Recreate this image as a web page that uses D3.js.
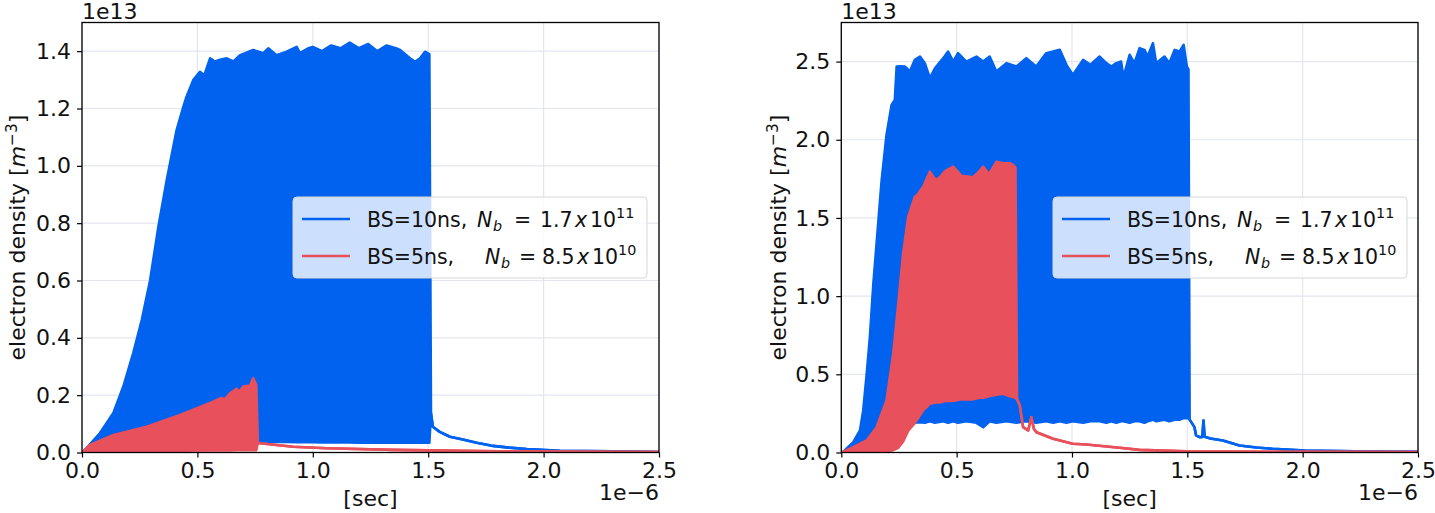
<!DOCTYPE html>
<html><head><meta charset="utf-8">
<script src="https://cdn.jsdelivr.net/npm/d3@7"></script>
<style>
body{margin:0;background:#fff}
svg{display:block}
text{font-family:"DejaVu Sans",sans-serif;fill:#111}
</style>
</head><body>
<svg id="c" width="1435" height="513"></svg>
<script>
// ---- tick labels ----
const xTicks = [0, 0.5, 1.0, 1.5, 2.0, 2.5];
const leftYTicks = [0, 0.2, 0.4, 0.6, 0.8, 1.0, 1.2, 1.4];
const rightYTicks = [0, 0.5, 1.0, 1.5, 2.0, 2.5];
const legendLabels = [
  {bs: "BS=10ns,", n: "1.7", e: "11"},
  {bs: "BS=5ns,", n: "8.5", e: "10"}
];

// ---- series: [time (1e-6 s), upper envelope, lower envelope] in 1e13 m^-3 ----
const leftBlue = [
  [0,0,0],[0.02,0.015,0.005],[0.078,0.068,0.015],[0.136,0.138,0.022],[0.179,0.23,0.026],
  [0.222,0.347,0.029],[0.259,0.462,0.031],[0.295,0.60,0.033],[0.331,0.788,0.034],[0.367,0.95,0.035],
  [0.41,1.125,0.036],[0.439,1.206,0.036],[0.453,1.241,0.037],[0.482,1.299,0.037],[0.511,1.328,0.037],
  [0.53,1.316,0.037],[0.555,1.375,0.038],[0.576,1.364,0.038],[0.598,1.37,0.038],[0.627,1.375,0.038],
  [0.656,1.364,0.038],[0.685,1.386,0.038],[0.742,1.404,0.038],[0.786,1.393,0.038],[0.807,1.41,0.037],
  [0.843,1.386,0.037],[0.887,1.398,0.037],[0.93,1.415,0.036],[0.944,1.393,0.036],[0.98,1.41,0.036],
  [1.0,1.415,0.036],[1.04,1.40,0.035],[1.08,1.42,0.035],[1.12,1.41,0.035],[1.16,1.43,0.035],
  [1.2,1.41,0.034],[1.24,1.425,0.034],[1.28,1.40,0.034],[1.32,1.42,0.034],[1.36,1.41,0.034],
  [1.378,1.404,0.034],[1.421,1.375,0.034],[1.443,1.363,0.034],[1.465,1.375,0.034],[1.486,1.398,0.034],
  [1.505,1.39,0.034],[1.512,0.137,0.137],[1.52,0.09,0.09],[1.55,0.072,0.072],[1.594,0.055,0.055],
  [1.65,0.045,0.045],[1.71,0.034,0.034],[1.76,0.026,0.026],[1.78,0.023,0.023],[1.85,0.017,0.017],
  [1.927,0.012,0.012],[2.07,0.006,0.006],[2.3,0.004,0.004],[2.5,0.002,0.002]
];
const leftRed = [
  [0,0,0],[0.035,0.026,0.002],[0.136,0.061,0.004],[0.28,0.09,0.005],[0.425,0.131,0.006],
  [0.569,0.177,0.007],[0.6,0.19,0.007],[0.62,0.186,0.007],[0.641,0.206,0.007],[0.67,0.222,0.008],
  [0.68,0.212,0.008],[0.699,0.23,0.008],[0.728,0.234,0.008],[0.742,0.259,0.008],[0.755,0.235,0.008],
  [0.762,0.035,0.035],[0.771,0.032,0.032],[0.915,0.02,0.02],[1.06,0.015,0.015],[1.35,0.009,0.009],
  [1.8,0.004,0.004],[2.5,0.002,0.002]
];
const rightBlue = [
  [0,0,0],[0.009,0.005,0],[0.052,0.066,0],[0.081,0.141,0],[0.095,0.269,0],[0.11,0.5,0],
  [0.124,0.739,0.002],[0.139,1.081,0.003],[0.16,1.465,0.005],[0.175,1.742,0.007],[0.196,2.031,0.01],
  [0.218,2.223,0.02],[0.232,2.255,0.03],[0.24,2.468,0.04],[0.254,2.47,0.06],[0.276,2.468,0.11],
  [0.283,2.458,0.13],[0.297,2.436,0.17],[0.319,2.511,0.19],[0.341,2.532,0.194],[0.362,2.49,0.19],
  [0.384,2.394,0.2],[0.406,2.457,0.19],[0.442,2.522,0.2],[0.463,2.564,0.19],[0.485,2.5,0.2],
  [0.506,2.554,0.19],[0.542,2.5,0.2],[0.586,2.532,0.19],[0.615,2.5,0.162],[0.643,2.532,0.2],
  [0.672,2.436,0.19],[0.716,2.49,0.2],[0.759,2.468,0.19],[0.802,2.522,0.2],[0.845,2.468,0.19],
  [0.889,2.554,0.2],[0.918,2.564,0.19],[0.947,2.575,0.2],[0.976,2.479,0.19],[1.004,2.415,0.2],
  [1.048,2.511,0.19],[1.08,2.48,0.2],[1.12,2.532,0.2],[1.149,2.49,0.19],[1.17,2.468,0.2],
  [1.192,2.49,0.19],[1.213,2.5,0.2],[1.223,2.40,0.2],[1.25,2.543,0.19],[1.271,2.49,0.2],
  [1.293,2.586,0.2],[1.314,2.575,0.19],[1.328,2.532,0.2],[1.351,2.618,0.21],[1.365,2.49,0.2],
  [1.401,2.532,0.21],[1.422,2.49,0.2],[1.445,2.575,0.21],[1.466,2.564,0.21],[1.484,2.607,0.22],
  [1.498,2.468,0.22],[1.505,2.45,0.22],[1.51,0.21,0.21],[1.531,0.162,0.162],[1.538,0.109,0.109],
  [1.553,0.098,0.098],[1.565,0.1,0.1],[1.57,0.205,0.205],[1.575,0.1,0.1],[1.6,0.09,0.09],
  [1.654,0.077,0.077],[1.726,0.045,0.045],[1.8,0.032,0.032],[1.87,0.024,0.024],[2.01,0.013,0.013],
  [2.3,0.006,0.006],[2.5,0.004,0.004]
];
const rightRed = [
  [0,0,0],[0.038,0.024,0],[0.11,0.077,0],[0.153,0.162,0],[0.196,0.333,0.005],[0.225,0.632,0.015],
  [0.247,0.952,0.03],[0.268,1.273,0.07],[0.29,1.507,0.14],[0.319,1.636,0.19],[0.326,1.64,0.205],
  [0.355,1.70,0.27],[0.37,1.75,0.29],[0.384,1.796,0.312],[0.41,1.74,0.32],[0.427,1.76,0.32],
  [0.45,1.80,0.33],[0.485,1.828,0.33],[0.52,1.77,0.34],[0.571,1.76,0.34],[0.6,1.80,0.35],
  [0.615,1.828,0.35],[0.64,1.78,0.36],[0.673,1.86,0.37],[0.701,1.85,0.376],[0.73,1.85,0.36],
  [0.745,1.839,0.355],[0.755,1.82,0.35],[0.762,0.34,0.34],[0.774,0.30,0.30],[0.788,0.162,0.162],
  [0.81,0.141,0.141],[0.824,0.226,0.226],[0.835,0.15,0.15],[0.846,0.13,0.13],[0.918,0.088,0.088],
  [1.003,0.056,0.056],[1.062,0.051,0.051],[1.206,0.03,0.03],[1.293,0.017,0.017],[1.495,0.008,0.008],
  [2.0,0.004,0.004],[2.5,0.003,0.003]
];

// ---- styling ----
const BLUE = "#0062ee", RED = "#e8505b";
const FS = 22, LFS = 20.5;
const svg = d3.select("#c");

const mathPos = [[477, 493, 514, 540, 575, 590, 616], [485, 501, 519, 542, 577, 592, 618]];
const panels = [
  {x0: 82, x1: 659, y0: 22.5, y1: 452.5, ymax: 1.5, yTicks: leftYTicks, blue: leftBlue, red: leftRed, ylabX: 18, legX: 293},
  {x0: 841.3, x1: 1418, y0: 22.5, y1: 452.5, ymax: 2.75, yTicks: rightYTicks, blue: rightBlue, red: rightRed, ylabX: 779, legX: 1053}
];

panels.forEach((p, i) => {
  const x = d3.scaleLinear().domain([0, 2.5]).range([p.x0, p.x1]);
  const y = d3.scaleLinear().domain([0, p.ymax]).range([p.y1, p.y0]);
  const g = svg.append("g");
  const clipId = "clip" + i;
  g.append("clipPath").attr("id", clipId).append("rect")
    .attr("x", p.x0).attr("y", p.y0).attr("width", p.x1 - p.x0).attr("height", p.y1 - p.y0);

  // grid
  const grid = g.append("g").attr("stroke", "#e3e6ef").attr("stroke-width", 1.2);
  xTicks.forEach(t => grid.append("line").attr("x1", x(t)).attr("x2", x(t)).attr("y1", p.y0).attr("y2", p.y1));
  p.yTicks.forEach(t => grid.append("line").attr("y1", y(t)).attr("y2", y(t)).attr("x1", p.x0).attr("x2", p.x1));

  // data
  const area = d3.area().x(d => x(d[0])).y0(d => y(d[2])).y1(d => y(d[1]));
  const upper = d3.line().x(d => x(d[0])).y(d => y(d[1]));
  const lower = d3.line().x(d => x(d[0])).y(d => y(d[2]));
  const dg = g.append("g").attr("clip-path", `url(#${clipId})`);
  [[p.blue, BLUE], [p.red, RED]].forEach(([data, col]) => {
    dg.append("path").attr("d", area(data)).attr("fill", col);
    dg.append("path").attr("d", upper(data)).attr("fill", "none").attr("stroke", col).attr("stroke-width", 2.6).attr("stroke-linejoin", "round");
    dg.append("path").attr("d", lower(data)).attr("fill", "none").attr("stroke", col).attr("stroke-width", 2.6).attr("stroke-linejoin", "round");
  });

  // axes
  const xAxis = d3.axisBottom(x).tickValues(xTicks).tickFormat(d3.format(".1f")).tickSize(5).tickPadding(5);
  const yAxis = d3.axisLeft(y).tickValues(p.yTicks).tickFormat(d3.format(".1f")).tickSize(5).tickPadding(6);
  const gx = g.append("g").attr("transform", `translate(0,${p.y1})`).call(xAxis);
  const gy = g.append("g").attr("transform", `translate(${p.x0},0)`).call(yAxis);
  [gx, gy].forEach(a => {
    a.select(".domain").remove();
    a.selectAll(".tick line").attr("stroke", "#000").attr("stroke-width", 1.2);
    a.selectAll(".tick text").attr("font-size", FS).attr("font-family", "DejaVu Sans").attr("fill", "#111");
  });

  // spines
  g.append("rect").attr("x", p.x0).attr("y", p.y0).attr("width", p.x1 - p.x0).attr("height", p.y1 - p.y0)
    .attr("fill", "none").attr("stroke", "#000").attr("stroke-width", 1.3);

  // offset texts
  g.append("text").attr("x", p.x0).attr("y", 19).attr("font-size", FS).text("1e13");
  g.append("text").attr("x", p.x1).attr("y", 500).attr("text-anchor", "end").attr("font-size", FS).text("1e\u22126");

  // axis labels
  g.append("text").attr("x", (p.x0 + p.x1) / 2).attr("y", 506).attr("text-anchor", "middle").attr("font-size", FS).text("[sec]");
  const yl = g.append("text").attr("transform", `translate(${p.ylabX + 7},${(p.y0 + p.y1) / 2}) rotate(-90)`)
    .attr("text-anchor", "middle").attr("font-size", FS);
  yl.append("tspan").text("electron density [");
  yl.append("tspan").attr("font-style", "italic").text("m");
  yl.append("tspan").attr("font-size", FS * 0.7).attr("dy", -8).text("\u22123");
  yl.append("tspan").attr("dy", 8).text("]");

  // legend
  const lg = g.append("g");
  const L = p.legX;
  const dxL = L - 293;
  lg.append("rect").attr("x", L).attr("y", 197).attr("width", 354).attr("height", 81).attr("rx", 4)
    .attr("fill", "#fff").attr("fill-opacity", 0.8).attr("stroke", "#d6d6d6").attr("stroke-width", 1);
  legendLabels.forEach((lab, k) => {
    const ly = 219 + k * 37;
    const col = k === 0 ? BLUE : RED;
    lg.append("line").attr("x1", L + 9).attr("x2", L + 57).attr("y1", ly).attr("y2", ly)
      .attr("stroke", col).attr("stroke-width", 2.6);
    const bl = ly + 7.5;
    const m = mathPos[k];
    const t = lg.append("text").attr("y", bl).attr("font-size", LFS);
    t.append("tspan").attr("x", L + 74).text(lab.bs);
    t.append("tspan").attr("x", m[0] + dxL).attr("font-style", "italic").text("N");
    t.append("tspan").attr("x", m[1] + dxL).attr("font-style", "italic").attr("font-size", LFS * 0.7).attr("dy", 4.5).text("b");
    t.append("tspan").attr("x", m[2] + dxL).attr("dy", -4.5).text("=");
    t.append("tspan").attr("x", m[3] + dxL).text(lab.n);
    t.append("tspan").attr("x", m[4] + dxL).attr("font-style", "italic").text("x");
    t.append("tspan").attr("x", m[5] + dxL).text("10");
    t.append("tspan").attr("x", m[6] + dxL).attr("font-size", LFS * 0.7).attr("dy", -9).text(lab.e);
  });
});
</script>
</body></html>
